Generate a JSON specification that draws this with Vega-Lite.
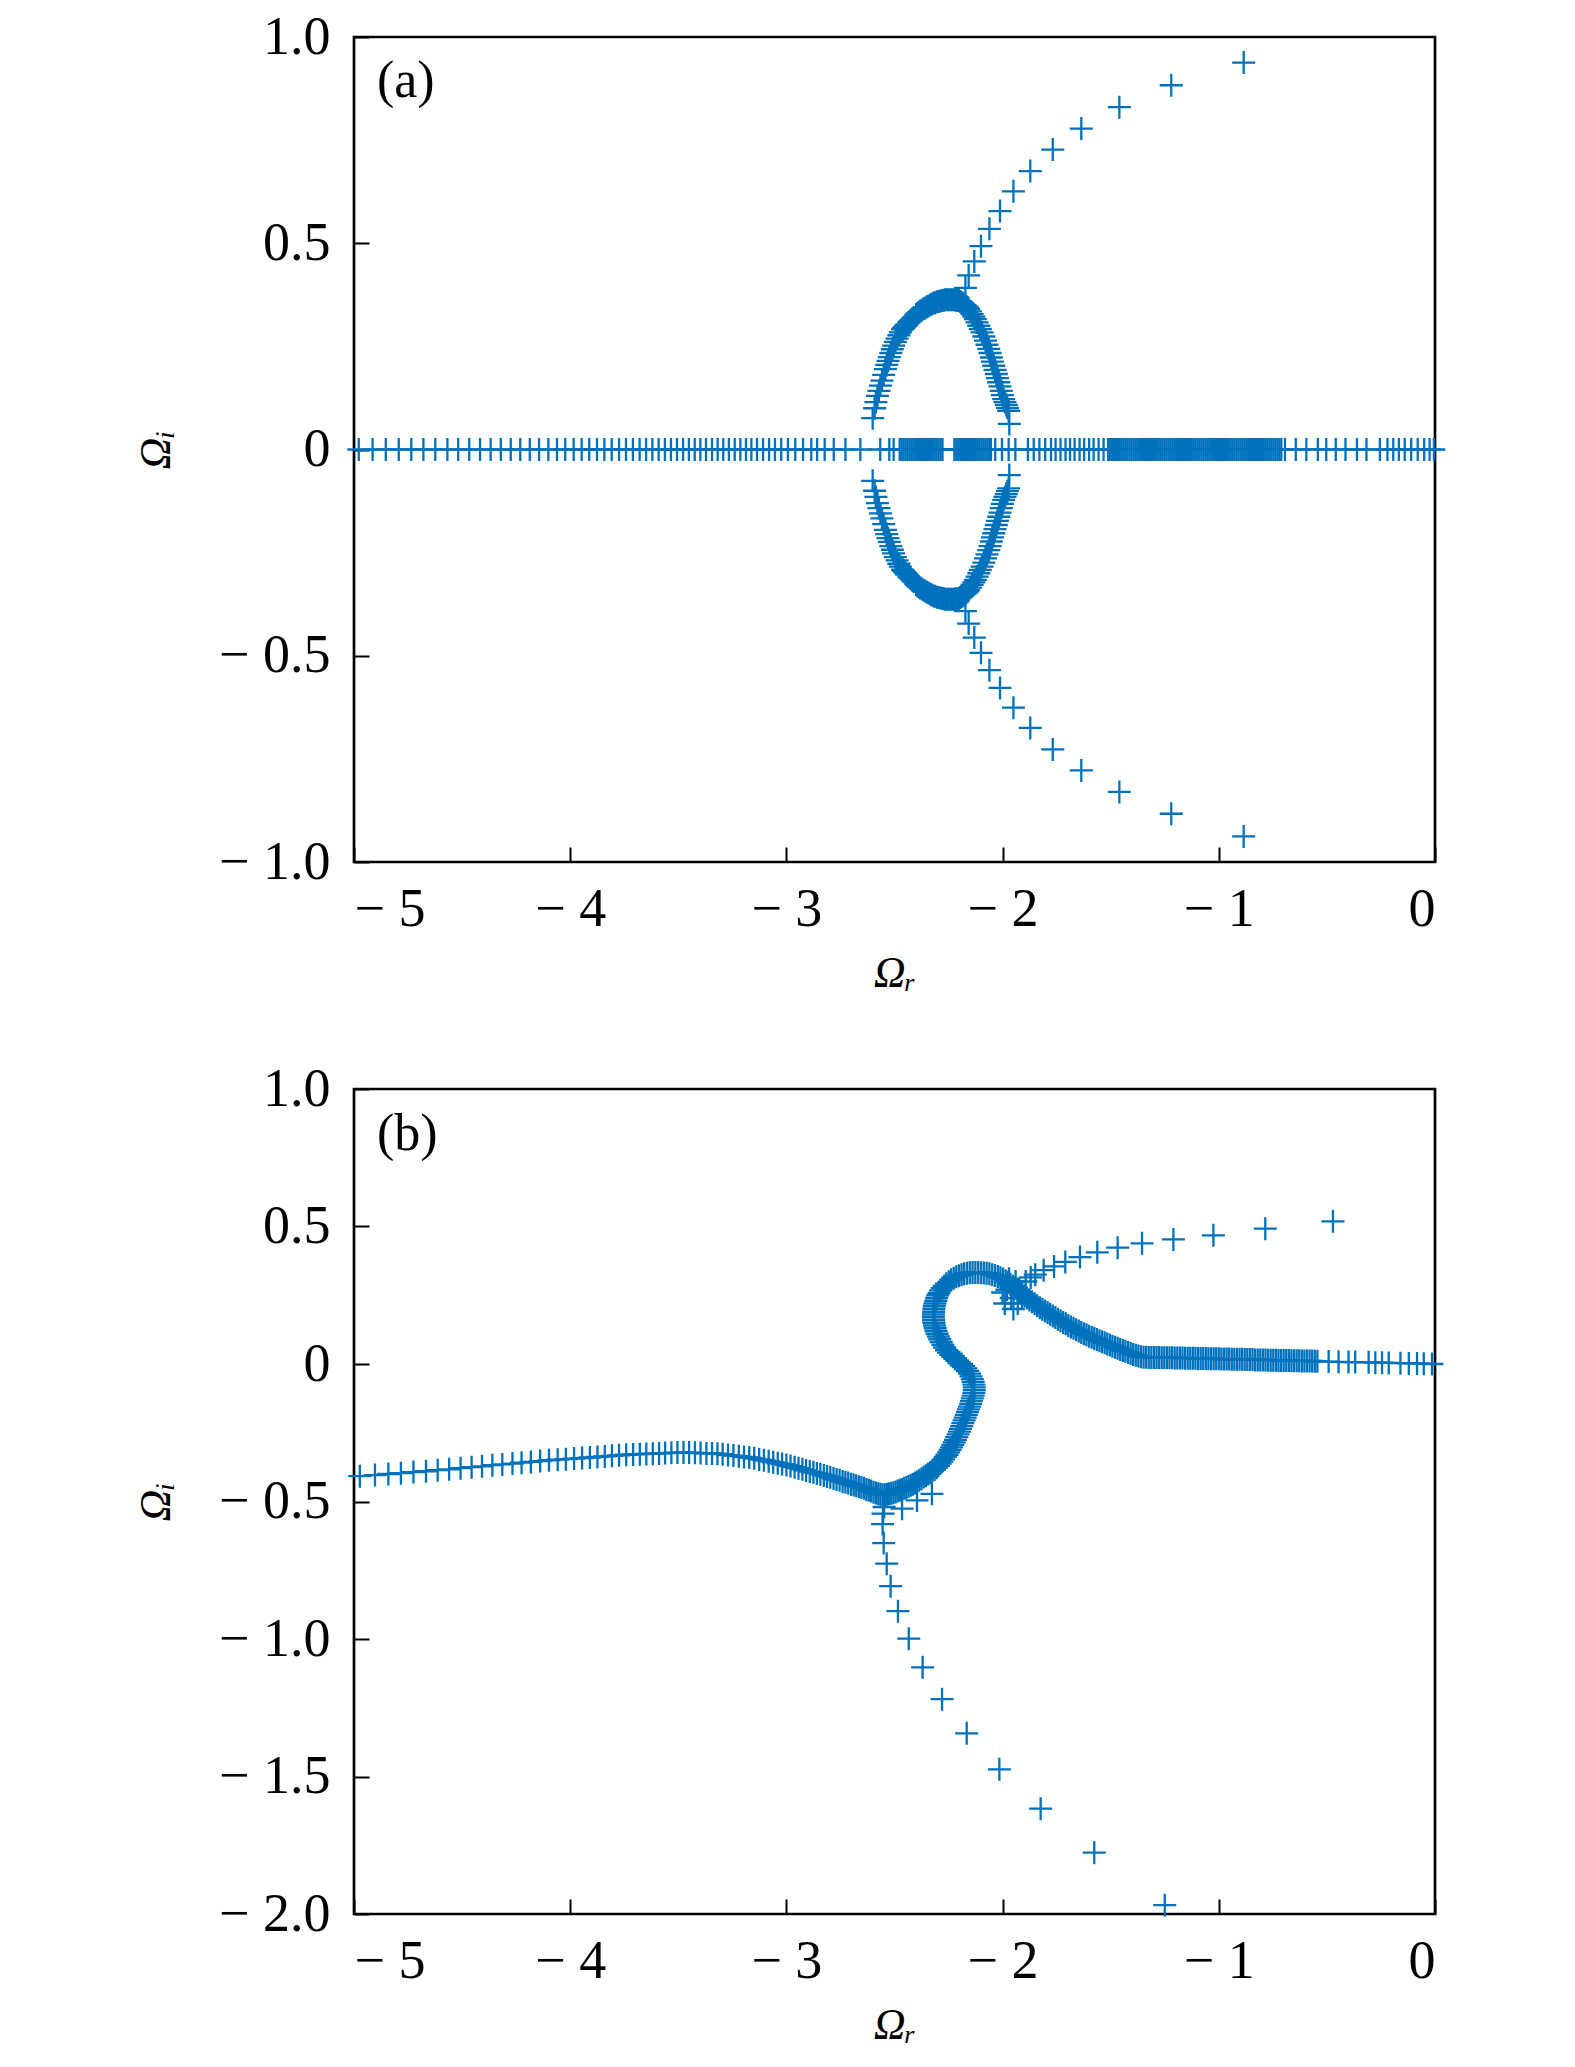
{
 "$schema": "https://vega.github.io/schema/vega-lite/v6.json",
 "padding": {"left": 133, "top": 8, "right": 20, "bottom": 10},
 "background": "white",
 "bounds": "flush",
 "spacing": 227,
 "config": {
  "view": {"stroke": "black", "strokeWidth": 2.7},
  "font": "Liberation Serif",
  "axis": {"grid": false, "domain": false, "tickColor": "black", "tickWidth": 2, "tickSize": -15, "labelPadding": 39, "labelFont": "Liberation Serif", "labelFontSize": 54, "labelColor": "black", "titleFont": "Liberation Serif", "titleFontSize": 44, "titleFontWeight": "normal", "titleFontStyle": "italic", "titleColor": "black"},
  "axisX": {"labelPadding": 35}
 },
 "datasets": {
  "a": [
   {"x":-0.885,"y":0.938},{"x":-1.22,"y":0.883},{"x":-1.46,"y":0.83},{"x":-1.636,"y":0.778},{"x":-1.768,"y":0.727},{"x":-1.872,"y":0.675},{"x":-1.95,"y":0.626},{"x":-2.012,"y":0.578},{"x":-2.061,"y":0.535},{"x":-2.1,"y":0.493},{"x":-2.131,"y":0.456},{"x":-2.157,"y":0.422},{"x":-2.172,"y":0.392},
   {"x":-0.885,"y":-0.938},{"x":-1.22,"y":-0.883},{"x":-1.46,"y":-0.83},{"x":-1.636,"y":-0.778},{"x":-1.768,"y":-0.727},{"x":-1.872,"y":-0.675},{"x":-1.95,"y":-0.626},{"x":-2.012,"y":-0.578},{"x":-2.061,"y":-0.535},{"x":-2.1,"y":-0.493},{"x":-2.131,"y":-0.456},{"x":-2.157,"y":-0.422},{"x":-2.172,"y":-0.392},
   {"x":-2.601,"y":0.076},{"x":-2.592,"y":0.1},{"x":-2.586,"y":0.115},{"x":-2.579,"y":0.13},{"x":-2.572,"y":0.142},{"x":-2.565,"y":0.155},{"x":-2.558,"y":0.167},{"x":-2.55,"y":0.181},{"x":-2.542,"y":0.195},{"x":-2.536,"y":0.205},{"x":-2.53,"y":0.215},{"x":-2.524,"y":0.224},{"x":-2.517,"y":0.234},{"x":-2.51,"y":0.243},{"x":-2.504,"y":0.252},{"x":-2.496,"y":0.261},{"x":-2.488,"y":0.269},{"x":-2.48,"y":0.277},{"x":-2.473,"y":0.284},{"x":-2.463,"y":0.291},{"x":-2.458,"y":0.294},{"x":-2.453,"y":0.297},{"x":-2.448,"y":0.3},{"x":-2.443,"y":0.303},{"x":-2.434,"y":0.308},{"x":-2.428,"y":0.311},{"x":-2.423,"y":0.314},{"x":-2.417,"y":0.317},{"x":-2.411,"y":0.32},{"x":-2.4,"y":0.327},{"x":-2.394,"y":0.33},{"x":-2.388,"y":0.333},{"x":-2.381,"y":0.336},{"x":-2.373,"y":0.338},{"x":-2.365,"y":0.341},{"x":-2.358,"y":0.343},{"x":-2.35,"y":0.346},{"x":-2.342,"y":0.348},{"x":-2.334,"y":0.351},{"x":-2.327,"y":0.353},{"x":-2.319,"y":0.355},{"x":-2.312,"y":0.356},{"x":-2.304,"y":0.358},{"x":-2.296,"y":0.359},{"x":-2.288,"y":0.36},{"x":-2.28,"y":0.361},{"x":-2.272,"y":0.362},{"x":-2.265,"y":0.363},{"x":-2.257,"y":0.363},{"x":-2.25,"y":0.363},{"x":-2.242,"y":0.363},{"x":-2.234,"y":0.363},{"x":-2.226,"y":0.363},{"x":-2.218,"y":0.362},{"x":-2.21,"y":0.362},{"x":-2.203,"y":0.361},{"x":-2.197,"y":0.359},{"x":-2.191,"y":0.357},{"x":-2.185,"y":0.355},{"x":-2.18,"y":0.352},{"x":-2.174,"y":0.35},{"x":-2.168,"y":0.347},{"x":-2.162,"y":0.344},{"x":-2.157,"y":0.341},{"x":-2.149,"y":0.335},{"x":-2.141,"y":0.328},{"x":-2.133,"y":0.322},{"x":-2.126,"y":0.316},{"x":-2.118,"y":0.308},{"x":-2.11,"y":0.3},{"x":-2.103,"y":0.292},{"x":-2.095,"y":0.284},{"x":-2.087,"y":0.274},{"x":-2.079,"y":0.264},{"x":-2.072,"y":0.254},{"x":-2.064,"y":0.244},{"x":-2.058,"y":0.234},{"x":-2.052,"y":0.223},{"x":-2.047,"y":0.213},{"x":-2.041,"y":0.203},{"x":-2.035,"y":0.193},{"x":-2.029,"y":0.183},{"x":-2.024,"y":0.173},{"x":-2.018,"y":0.163},{"x":-2.012,"y":0.153},{"x":-2.006,"y":0.142},{"x":-2.001,"y":0.132},{"x":-1.995,"y":0.122},{"x":-1.989,"y":0.115},{"x":-1.983,"y":0.108},{"x":-1.978,"y":0.101},{"x":-1.972,"y":0.094},{"x":-1.969,"y":0.062},
   {"x":-2.601,"y":-0.076},{"x":-2.592,"y":-0.1},{"x":-2.586,"y":-0.115},{"x":-2.579,"y":-0.13},{"x":-2.572,"y":-0.142},{"x":-2.565,"y":-0.155},{"x":-2.558,"y":-0.167},{"x":-2.55,"y":-0.181},{"x":-2.542,"y":-0.195},{"x":-2.536,"y":-0.205},{"x":-2.53,"y":-0.215},{"x":-2.524,"y":-0.224},{"x":-2.517,"y":-0.234},{"x":-2.51,"y":-0.243},{"x":-2.504,"y":-0.252},{"x":-2.496,"y":-0.261},{"x":-2.488,"y":-0.269},{"x":-2.48,"y":-0.277},{"x":-2.473,"y":-0.284},{"x":-2.463,"y":-0.291},{"x":-2.458,"y":-0.294},{"x":-2.453,"y":-0.297},{"x":-2.448,"y":-0.3},{"x":-2.443,"y":-0.303},{"x":-2.434,"y":-0.308},{"x":-2.428,"y":-0.311},{"x":-2.423,"y":-0.314},{"x":-2.417,"y":-0.317},{"x":-2.411,"y":-0.32},{"x":-2.4,"y":-0.327},{"x":-2.394,"y":-0.33},{"x":-2.388,"y":-0.333},{"x":-2.381,"y":-0.336},{"x":-2.373,"y":-0.338},{"x":-2.365,"y":-0.341},{"x":-2.358,"y":-0.343},{"x":-2.35,"y":-0.346},{"x":-2.342,"y":-0.348},{"x":-2.334,"y":-0.351},{"x":-2.327,"y":-0.353},{"x":-2.319,"y":-0.355},{"x":-2.312,"y":-0.356},{"x":-2.304,"y":-0.358},{"x":-2.296,"y":-0.359},{"x":-2.288,"y":-0.36},{"x":-2.28,"y":-0.361},{"x":-2.272,"y":-0.362},{"x":-2.265,"y":-0.363},{"x":-2.257,"y":-0.363},{"x":-2.25,"y":-0.363},{"x":-2.242,"y":-0.363},{"x":-2.234,"y":-0.363},{"x":-2.226,"y":-0.363},{"x":-2.218,"y":-0.362},{"x":-2.21,"y":-0.362},{"x":-2.203,"y":-0.361},{"x":-2.197,"y":-0.359},{"x":-2.191,"y":-0.357},{"x":-2.185,"y":-0.355},{"x":-2.18,"y":-0.352},{"x":-2.174,"y":-0.35},{"x":-2.168,"y":-0.347},{"x":-2.162,"y":-0.344},{"x":-2.157,"y":-0.341},{"x":-2.149,"y":-0.335},{"x":-2.141,"y":-0.328},{"x":-2.133,"y":-0.322},{"x":-2.126,"y":-0.316},{"x":-2.118,"y":-0.308},{"x":-2.11,"y":-0.3},{"x":-2.103,"y":-0.292},{"x":-2.095,"y":-0.284},{"x":-2.087,"y":-0.274},{"x":-2.079,"y":-0.264},{"x":-2.072,"y":-0.254},{"x":-2.064,"y":-0.244},{"x":-2.058,"y":-0.234},{"x":-2.052,"y":-0.223},{"x":-2.047,"y":-0.213},{"x":-2.041,"y":-0.203},{"x":-2.035,"y":-0.193},{"x":-2.029,"y":-0.183},{"x":-2.024,"y":-0.173},{"x":-2.018,"y":-0.163},{"x":-2.012,"y":-0.153},{"x":-2.006,"y":-0.142},{"x":-2.001,"y":-0.132},{"x":-1.995,"y":-0.122},{"x":-1.989,"y":-0.115},{"x":-1.983,"y":-0.108},{"x":-1.978,"y":-0.101},{"x":-1.972,"y":-0.094},{"x":-1.969,"y":-0.062},
   {"x":-4.978,"y":0},{"x":-4.914,"y":0},{"x":-4.853,"y":0},{"x":-4.793,"y":0},{"x":-4.735,"y":0},{"x":-4.679,"y":0},{"x":-4.624,"y":0},{"x":-4.568,"y":0},{"x":-4.518,"y":0},{"x":-4.467,"y":0},{"x":-4.417,"y":0},{"x":-4.368,"y":0},{"x":-4.321,"y":0},{"x":-4.275,"y":0},{"x":-4.231,"y":0},{"x":-4.187,"y":0},{"x":-4.144,"y":0},{"x":-4.101,"y":0},{"x":-4.061,"y":0},{"x":-4.023,"y":0},{"x":-3.984,"y":0},{"x":-3.947,"y":0},{"x":-3.912,"y":0},{"x":-3.876,"y":0},{"x":-3.842,"y":0},{"x":-3.808,"y":0},{"x":-3.774,"y":0},{"x":-3.742,"y":0},{"x":-3.71,"y":0},{"x":-3.679,"y":0},{"x":-3.649,"y":0},{"x":-3.62,"y":0},{"x":-3.591,"y":0},{"x":-3.562,"y":0},{"x":-3.534,"y":0},{"x":-3.506,"y":0},{"x":-3.478,"y":0},{"x":-3.451,"y":0},{"x":-3.424,"y":0},{"x":-3.398,"y":0},{"x":-3.372,"y":0},{"x":-3.344,"y":0},{"x":-3.318,"y":0},{"x":-3.292,"y":0},{"x":-3.266,"y":0},{"x":-3.239,"y":0},{"x":-3.213,"y":0},{"x":-3.187,"y":0},{"x":-3.162,"y":0},{"x":-3.136,"y":0},{"x":-3.108,"y":0},{"x":-3.08,"y":0},{"x":-3.053,"y":0},{"x":-3.024,"y":0},{"x":-2.993,"y":0},{"x":-2.959,"y":0},{"x":-2.923,"y":0},{"x":-2.885,"y":0},{"x":-2.858,"y":0},{"x":-2.823,"y":0},{"x":-2.781,"y":0},{"x":-2.727,"y":0},{"x":-2.658,"y":0},{"x":-2.566,"y":0},{"x":-2.524,"y":0},{"x":-2.504,"y":0},
   {"x":-2.476,"y":0},{"x":-2.467,"y":0},{"x":-2.458,"y":0},{"x":-2.449,"y":0},{"x":-2.44,"y":0},{"x":-2.431,"y":0},{"x":-2.422,"y":0},{"x":-2.413,"y":0},{"x":-2.404,"y":0},{"x":-2.395,"y":0},{"x":-2.386,"y":0},{"x":-2.377,"y":0},{"x":-2.368,"y":0},{"x":-2.359,"y":0},{"x":-2.35,"y":0},{"x":-2.341,"y":0},{"x":-2.332,"y":0},{"x":-2.323,"y":0},{"x":-2.314,"y":0},{"x":-2.305,"y":0},{"x":-2.296,"y":0},{"x":-2.287,"y":0},{"x":-2.278,"y":0},
   {"x":-2.223,"y":0},{"x":-2.214,"y":0},{"x":-2.205,"y":0},{"x":-2.196,"y":0},{"x":-2.187,"y":0},{"x":-2.178,"y":0},{"x":-2.169,"y":0},{"x":-2.16,"y":0},{"x":-2.151,"y":0},{"x":-2.142,"y":0},{"x":-2.133,"y":0},{"x":-2.124,"y":0},{"x":-2.115,"y":0},{"x":-2.106,"y":0},{"x":-2.097,"y":0},{"x":-2.088,"y":0},{"x":-2.079,"y":0},{"x":-2.07,"y":0},{"x":-2.061,"y":0},{"x":-2.054,"y":0},
   {"x":-2.034,"y":0},{"x":-2.003,"y":0},{"x":-1.972,"y":0},{"x":-1.941,"y":0},{"x":-1.883,"y":0},{"x":-1.856,"y":0},{"x":-1.83,"y":0},{"x":-1.803,"y":0},{"x":-1.776,"y":0},{"x":-1.755,"y":0},{"x":-1.732,"y":0},{"x":-1.709,"y":0},{"x":-1.688,"y":0},{"x":-1.667,"y":0},{"x":-1.644,"y":0},{"x":-1.623,"y":0},{"x":-1.6,"y":0},{"x":-1.579,"y":0},{"x":-1.556,"y":0},{"x":-1.533,"y":0},
   {"x":-1.512,"y":0},{"x":-1.503,"y":0},{"x":-1.494,"y":0},{"x":-1.485,"y":0},{"x":-1.476,"y":0},{"x":-1.467,"y":0},{"x":-1.458,"y":0},{"x":-1.449,"y":0},{"x":-1.44,"y":0},{"x":-1.431,"y":0},{"x":-1.422,"y":0},{"x":-1.413,"y":0},{"x":-1.404,"y":0},{"x":-1.395,"y":0},{"x":-1.386,"y":0},{"x":-1.377,"y":0},{"x":-1.368,"y":0},{"x":-1.359,"y":0},{"x":-1.35,"y":0},{"x":-1.341,"y":0},{"x":-1.332,"y":0},{"x":-1.323,"y":0},{"x":-1.314,"y":0},{"x":-1.305,"y":0},{"x":-1.296,"y":0},{"x":-1.287,"y":0},{"x":-1.278,"y":0},{"x":-1.269,"y":0},{"x":-1.26,"y":0},{"x":-1.251,"y":0},{"x":-1.242,"y":0},{"x":-1.233,"y":0},{"x":-1.224,"y":0},{"x":-1.215,"y":0},{"x":-1.206,"y":0},{"x":-1.197,"y":0},{"x":-1.188,"y":0},{"x":-1.179,"y":0},{"x":-1.17,"y":0},{"x":-1.161,"y":0},{"x":-1.152,"y":0},{"x":-1.143,"y":0},{"x":-1.134,"y":0},{"x":-1.125,"y":0},{"x":-1.116,"y":0},{"x":-1.107,"y":0},{"x":-1.098,"y":0},{"x":-1.089,"y":0},{"x":-1.08,"y":0},{"x":-1.071,"y":0},{"x":-1.062,"y":0},{"x":-1.053,"y":0},{"x":-1.044,"y":0},{"x":-1.035,"y":0},{"x":-1.026,"y":0},{"x":-1.017,"y":0},{"x":-1.008,"y":0},{"x":-0.999,"y":0},{"x":-0.99,"y":0},{"x":-0.981,"y":0},{"x":-0.972,"y":0},{"x":-0.963,"y":0},{"x":-0.954,"y":0},{"x":-0.945,"y":0},{"x":-0.936,"y":0},{"x":-0.927,"y":0},{"x":-0.918,"y":0},{"x":-0.909,"y":0},{"x":-0.9,"y":0},{"x":-0.891,"y":0},{"x":-0.882,"y":0},{"x":-0.873,"y":0},{"x":-0.864,"y":0},{"x":-0.855,"y":0},{"x":-0.846,"y":0},{"x":-0.837,"y":0},{"x":-0.828,"y":0},{"x":-0.819,"y":0},{"x":-0.81,"y":0},{"x":-0.801,"y":0},{"x":-0.792,"y":0},{"x":-0.783,"y":0},{"x":-0.774,"y":0},{"x":-0.765,"y":0},{"x":-0.756,"y":0},{"x":-0.747,"y":0},{"x":-0.738,"y":0},{"x":-0.729,"y":0},{"x":-0.72,"y":0},{"x":-0.711,"y":0},
   {"x":-0.694,"y":0},{"x":-0.644,"y":0},{"x":-0.595,"y":0},{"x":-0.542,"y":0},{"x":-0.503,"y":0},{"x":-0.459,"y":0},{"x":-0.414,"y":0},{"x":-0.361,"y":0},{"x":-0.317,"y":0},{"x":-0.255,"y":0},{"x":-0.22,"y":0},{"x":-0.193,"y":0},{"x":-0.167,"y":0},{"x":-0.14,"y":0},{"x":-0.11,"y":0},{"x":-0.08,"y":0},{"x":-0.05,"y":0},{"x":-0.025,"y":0},{"x":-0.005,"y":0}
  ],
  "b": [
   {"x":-4.973,"y":-0.408},{"x":-4.903,"y":-0.404},{"x":-4.841,"y":-0.4},{"x":-4.783,"y":-0.397},{"x":-4.725,"y":-0.393},{"x":-4.667,"y":-0.39},{"x":-4.613,"y":-0.386},{"x":-4.56,"y":-0.383},{"x":-4.507,"y":-0.379},{"x":-4.456,"y":-0.375},{"x":-4.408,"y":-0.372},{"x":-4.36,"y":-0.368},{"x":-4.314,"y":-0.365},{"x":-4.267,"y":-0.362},{"x":-4.225,"y":-0.359},{"x":-4.182,"y":-0.356},{"x":-4.139,"y":-0.353},{"x":-4.098,"y":-0.35},{"x":-4.058,"y":-0.348},{"x":-4.02,"y":-0.346},{"x":-3.982,"y":-0.344},{"x":-3.945,"y":-0.342},{"x":-3.909,"y":-0.34},{"x":-3.874,"y":-0.338},{"x":-3.84,"y":-0.336},{"x":-3.807,"y":-0.334},{"x":-3.774,"y":-0.332},{"x":-3.741,"y":-0.33},{"x":-3.709,"y":-0.329},{"x":-3.678,"y":-0.328},{"x":-3.648,"y":-0.327},{"x":-3.618,"y":-0.326},{"x":-3.589,"y":-0.325},{"x":-3.561,"y":-0.324},{"x":-3.532,"y":-0.323},{"x":-3.504,"y":-0.322},{"x":-3.476,"y":-0.322},{"x":-3.45,"y":-0.322},{"x":-3.423,"y":-0.323},{"x":-3.397,"y":-0.324},{"x":-3.37,"y":-0.325},{"x":-3.344,"y":-0.325},{"x":-3.319,"y":-0.326},{"x":-3.295,"y":-0.328},{"x":-3.27,"y":-0.331},{"x":-3.245,"y":-0.333},{"x":-3.22,"y":-0.335},{"x":-3.196,"y":-0.338},{"x":-3.172,"y":-0.34},{"x":-3.149,"y":-0.343},{"x":-3.126,"y":-0.347},{"x":-3.104,"y":-0.35},{"x":-3.082,"y":-0.354},{"x":-3.061,"y":-0.357},{"x":-3.04,"y":-0.361},{"x":-3.02,"y":-0.364},{"x":-3.0,"y":-0.367},{"x":-2.981,"y":-0.371},{"x":-2.962,"y":-0.375},{"x":-2.944,"y":-0.379},{"x":-2.926,"y":-0.383},{"x":-2.909,"y":-0.387},{"x":-2.892,"y":-0.391},{"x":-2.875,"y":-0.394},{"x":-2.859,"y":-0.398},{"x":-2.843,"y":-0.401},{"x":-2.827,"y":-0.405},{"x":-2.812,"y":-0.409},{"x":-2.797,"y":-0.412},{"x":-2.782,"y":-0.416},{"x":-2.768,"y":-0.42},{"x":-2.754,"y":-0.423},{"x":-2.74,"y":-0.427},{"x":-2.727,"y":-0.43},{"x":-2.714,"y":-0.433},{"x":-2.701,"y":-0.437},{"x":-2.689,"y":-0.44},{"x":-2.677,"y":-0.443},{"x":-2.665,"y":-0.446},{"x":-2.653,"y":-0.449},{"x":-2.641,"y":-0.452},{"x":-2.63,"y":-0.456},{"x":-2.619,"y":-0.459},{"x":-2.608,"y":-0.462},{"x":-2.597,"y":-0.466},{"x":-2.586,"y":-0.469},{"x":-2.575,"y":-0.472},
   {"x":-2.565,"y":-0.474},{"x":-2.555,"y":-0.475},{"x":-2.545,"y":-0.475},{"x":-2.535,"y":-0.474},{"x":-2.525,"y":-0.472},{"x":-2.515,"y":-0.47},{"x":-2.505,"y":-0.468},{"x":-2.495,"y":-0.465},{"x":-2.485,"y":-0.462},{"x":-2.475,"y":-0.459},{"x":-2.465,"y":-0.456},{"x":-2.455,"y":-0.452},{"x":-2.445,"y":-0.449},{"x":-2.435,"y":-0.445},{"x":-2.425,"y":-0.441},{"x":-2.415,"y":-0.437},{"x":-2.405,"y":-0.433},{"x":-2.395,"y":-0.428},{"x":-2.385,"y":-0.423},{"x":-2.375,"y":-0.417},{"x":-2.365,"y":-0.411},{"x":-2.355,"y":-0.406},{"x":-2.345,"y":-0.4},{"x":-2.335,"y":-0.395},{"x":-2.325,"y":-0.389},{"x":-2.315,"y":-0.384},{"x":-2.305,"y":-0.377},{"x":-2.297,"y":-0.37},{"x":-2.289,"y":-0.362},{"x":-2.281,"y":-0.355},{"x":-2.273,"y":-0.347},{"x":-2.265,"y":-0.338},{"x":-2.257,"y":-0.33},{"x":-2.25,"y":-0.321},{"x":-2.243,"y":-0.312},{"x":-2.236,"y":-0.303},{"x":-2.23,"y":-0.294},{"x":-2.224,"y":-0.285},{"x":-2.218,"y":-0.276},{"x":-2.212,"y":-0.266},{"x":-2.206,"y":-0.256},{"x":-2.2,"y":-0.246},{"x":-2.195,"y":-0.236},{"x":-2.189,"y":-0.226},{"x":-2.184,"y":-0.215},{"x":-2.178,"y":-0.205},{"x":-2.173,"y":-0.195},{"x":-2.168,"y":-0.185},{"x":-2.163,"y":-0.175},{"x":-2.158,"y":-0.165},{"x":-2.153,"y":-0.155},{"x":-2.148,"y":-0.145},{"x":-2.144,"y":-0.135},{"x":-2.14,"y":-0.125},{"x":-2.136,"y":-0.115},{"x":-2.133,"y":-0.105},{"x":-2.131,"y":-0.095},{"x":-2.131,"y":-0.085},{"x":-2.133,"y":-0.075},{"x":-2.136,"y":-0.065},{"x":-2.14,"y":-0.055},{"x":-2.146,"y":-0.045},{"x":-2.153,"y":-0.035},{"x":-2.161,"y":-0.025},{"x":-2.17,"y":-0.016},{"x":-2.18,"y":-0.008},{"x":-2.19,"y":0.0},{"x":-2.2,"y":0.006},{"x":-2.21,"y":0.012},{"x":-2.22,"y":0.019},{"x":-2.23,"y":0.026},{"x":-2.24,"y":0.033},{"x":-2.25,"y":0.041},{"x":-2.259,"y":0.05},{"x":-2.268,"y":0.06},{"x":-2.276,"y":0.07},{"x":-2.284,"y":0.08},{"x":-2.291,"y":0.09},{"x":-2.297,"y":0.1},{"x":-2.303,"y":0.11},{"x":-2.308,"y":0.12},{"x":-2.312,"y":0.13},{"x":-2.315,"y":0.14},{"x":-2.318,"y":0.15},{"x":-2.319,"y":0.16},{"x":-2.32,"y":0.17},{"x":-2.32,"y":0.18},{"x":-2.319,"y":0.19},{"x":-2.318,"y":0.2},{"x":-2.316,"y":0.21},{"x":-2.313,"y":0.22},{"x":-2.309,"y":0.23},{"x":-2.305,"y":0.24},{"x":-2.3,"y":0.25},{"x":-2.294,"y":0.259},{"x":-2.287,"y":0.268},{"x":-2.279,"y":0.276},{"x":-2.27,"y":0.284},{"x":-2.26,"y":0.292},{"x":-2.249,"y":0.299},{"x":-2.238,"y":0.306},{"x":-2.226,"y":0.312},{"x":-2.214,"y":0.317},{"x":-2.202,"y":0.321},{"x":-2.19,"y":0.325},{"x":-2.178,"y":0.328},{"x":-2.165,"y":0.33},{"x":-2.152,"y":0.332},{"x":-2.139,"y":0.333},{"x":-2.126,"y":0.333},{"x":-2.113,"y":0.333},{"x":-2.1,"y":0.332},{"x":-2.087,"y":0.331},{"x":-2.074,"y":0.33},{"x":-2.061,"y":0.328},{"x":-2.048,"y":0.325},{"x":-2.035,"y":0.322},{"x":-2.022,"y":0.318},{"x":-2.01,"y":0.314},{"x":-1.998,"y":0.309},{"x":-1.986,"y":0.303},{"x":-1.975,"y":0.297},{"x":-1.964,"y":0.29},{"x":-1.953,"y":0.283},{"x":-1.942,"y":0.276},{"x":-1.931,"y":0.268},{"x":-1.92,"y":0.261},{"x":-1.909,"y":0.254},{"x":-1.898,"y":0.247},{"x":-1.887,"y":0.24},{"x":-1.876,"y":0.233},{"x":-1.864,"y":0.226},{"x":-1.852,"y":0.219},{"x":-1.84,"y":0.212},{"x":-1.828,"y":0.205},{"x":-1.816,"y":0.199},{"x":-1.804,"y":0.193},{"x":-1.792,"y":0.187},{"x":-1.78,"y":0.181},{"x":-1.768,"y":0.175},{"x":-1.756,"y":0.169},{"x":-1.744,"y":0.163},{"x":-1.732,"y":0.157},{"x":-1.72,"y":0.151},{"x":-1.708,"y":0.146},{"x":-1.696,"y":0.14},{"x":-1.684,"y":0.135},{"x":-1.672,"y":0.13},{"x":-1.66,"y":0.125},{"x":-1.648,"y":0.12},{"x":-1.636,"y":0.115},{"x":-1.624,"y":0.11},{"x":-1.612,"y":0.106},{"x":-1.6,"y":0.101},{"x":-1.588,"y":0.097},{"x":-1.576,"y":0.093},{"x":-1.564,"y":0.089},{"x":-1.552,"y":0.085},{"x":-1.54,"y":0.081},{"x":-1.528,"y":0.077},{"x":-1.516,"y":0.073},{"x":-1.504,"y":0.069},{"x":-1.492,"y":0.065},{"x":-1.48,"y":0.061},{"x":-1.468,"y":0.057},{"x":-1.456,"y":0.053},{"x":-1.444,"y":0.049},{"x":-1.432,"y":0.046},{"x":-1.42,"y":0.042},{"x":-1.408,"y":0.039},{"x":-1.396,"y":0.035},{"x":-1.384,"y":0.032},{"x":-1.372,"y":0.029},{"x":-1.36,"y":0.026},{"x":-1.348,"y":0.025},
   {"x":-1.336,"y":0.025},{"x":-1.324,"y":0.024},{"x":-1.312,"y":0.024},{"x":-1.3,"y":0.024},{"x":-1.288,"y":0.024},{"x":-1.276,"y":0.024},{"x":-1.264,"y":0.023},{"x":-1.252,"y":0.023},{"x":-1.24,"y":0.023},{"x":-1.228,"y":0.023},{"x":-1.216,"y":0.023},{"x":-1.204,"y":0.022},{"x":-1.192,"y":0.022},{"x":-1.18,"y":0.022},{"x":-1.168,"y":0.022},{"x":-1.156,"y":0.021},{"x":-1.144,"y":0.021},{"x":-1.132,"y":0.021},{"x":-1.12,"y":0.021},{"x":-1.108,"y":0.021},{"x":-1.096,"y":0.02},{"x":-1.084,"y":0.02},{"x":-1.072,"y":0.02},{"x":-1.06,"y":0.02},{"x":-1.048,"y":0.019},{"x":-1.036,"y":0.019},{"x":-1.024,"y":0.019},{"x":-1.012,"y":0.019},{"x":-1.0,"y":0.019},{"x":-0.988,"y":0.018},{"x":-0.976,"y":0.018},{"x":-0.964,"y":0.018},{"x":-0.952,"y":0.018},{"x":-0.94,"y":0.017},{"x":-0.928,"y":0.017},{"x":-0.916,"y":0.017},{"x":-0.904,"y":0.017},{"x":-0.892,"y":0.017},{"x":-0.88,"y":0.016},{"x":-0.868,"y":0.016},{"x":-0.856,"y":0.016},{"x":-0.844,"y":0.016},{"x":-0.832,"y":0.015},{"x":-0.82,"y":0.015},{"x":-0.808,"y":0.015},{"x":-0.796,"y":0.015},{"x":-0.784,"y":0.015},{"x":-0.772,"y":0.014},{"x":-0.76,"y":0.014},{"x":-0.748,"y":0.014},{"x":-0.736,"y":0.014},{"x":-0.724,"y":0.013},{"x":-0.712,"y":0.013},{"x":-0.7,"y":0.013},{"x":-0.688,"y":0.013},{"x":-0.676,"y":0.013},{"x":-0.664,"y":0.012},{"x":-0.652,"y":0.012},{"x":-0.64,"y":0.012},{"x":-0.628,"y":0.012},{"x":-0.616,"y":0.011},{"x":-0.604,"y":0.011},{"x":-0.592,"y":0.011},{"x":-0.58,"y":0.011},{"x":-0.568,"y":0.011},{"x":-0.556,"y":0.01},{"x":-0.544,"y":0.01},
   {"x":-0.492,"y":0.009},{"x":-0.446,"y":0.008},{"x":-0.4,"y":0.007},{"x":-0.369,"y":0.007},{"x":-0.307,"y":0.006},{"x":-0.276,"y":0.005},{"x":-0.245,"y":0.005},{"x":-0.214,"y":0.004},{"x":-0.16,"y":0.003},{"x":-0.121,"y":0.002},{"x":-0.083,"y":0.002},{"x":-0.052,"y":0.001},{"x":-0.014,"y":0.0},
   {"x":-0.472,"y":0.519},{"x":-0.785,"y":0.492},{"x":-1.025,"y":0.468},{"x":-1.21,"y":0.453},{"x":-1.355,"y":0.439},{"x":-1.468,"y":0.423},{"x":-1.562,"y":0.406},{"x":-1.642,"y":0.389},{"x":-1.71,"y":0.371},{"x":-1.762,"y":0.355},{"x":-1.81,"y":0.341},{"x":-1.849,"y":0.325},{"x":-1.87,"y":0.315},{"x":-1.893,"y":0.3},
   {"x":-1.98,"y":0.27},{"x":-1.96,"y":0.24},{"x":-1.93,"y":0.22},{"x":-1.99,"y":0.22},{"x":-1.95,"y":0.2},{"x":-1.91,"y":0.24},{"x":-1.97,"y":0.31},{"x":-1.94,"y":0.3},{"x":-2.0,"y":0.26},
   {"x":-1.25,"y":-1.968},{"x":-1.576,"y":-1.777},{"x":-1.824,"y":-1.617},{"x":-2.015,"y":-1.474},{"x":-2.166,"y":-1.343},{"x":-2.28,"y":-1.219},{"x":-2.37,"y":-1.103},{"x":-2.434,"y":-0.999},{"x":-2.484,"y":-0.899},{"x":-2.518,"y":-0.808},{"x":-2.536,"y":-0.726},{"x":-2.55,"y":-0.651},{"x":-2.555,"y":-0.582},{"x":-2.553,"y":-0.544},{"x":-2.548,"y":-0.52},{"x":-2.465,"y":-0.526},{"x":-2.396,"y":-0.496},{"x":-2.327,"y":-0.472}
  ]
 },
 "vconcat": [
  {
   "width": 1081, "height": 825,
   "layer": [
    {
     "data": {"name": "a"},
     "mark": {"type": "point", "shape": "M-1,0L1,0M0,-1L0,1", "filled": false, "stroke": "#0072BD", "strokeWidth": 2.3, "size": 529, "opacity": 1},
     "encoding": {
      "x": {"field": "x", "type": "quantitative", "scale": {"domain": [-5, 0], "nice": false, "zero": false}, "axis": {"values": [-5, -4, -3, -2, -1, 0], "labelExpr": "datum.value == 0 ? '0' : '− ' + abs(datum.value)", "title": "Ωᵣ", "titlePadding": 15}},
      "y": {"field": "y", "type": "quantitative", "scale": {"domain": [-1, 1], "nice": false, "zero": false}, "axis": {"values": [-1, -0.5, 0, 0.5, 1], "labelExpr": "datum.value == 0 ? '0' : (datum.value < 0 ? '− ' : '') + format(abs(datum.value), '.1f')", "title": "Ωᵢ", "titlePadding": 40}}
     }
    },
    {
     "data": {"values": [{"x": -4.894, "y": 0.855, "t": "(a)"}]},
     "mark": {"type": "text", "align": "left", "baseline": "alphabetic", "fontSize": 52, "font": "Liberation Serif", "color": "black"},
     "encoding": {"x": {"field": "x", "type": "quantitative"}, "y": {"field": "y", "type": "quantitative"}, "text": {"field": "t"}}
    }
   ]
  },
  {
   "width": 1081, "height": 825,
   "layer": [
    {
     "data": {"name": "b"},
     "mark": {"type": "point", "shape": "M-1,0L1,0M0,-1L0,1", "filled": false, "stroke": "#0072BD", "strokeWidth": 2.3, "size": 529, "opacity": 1},
     "encoding": {
      "x": {"field": "x", "type": "quantitative", "scale": {"domain": [-5, 0], "nice": false, "zero": false}, "axis": {"values": [-5, -4, -3, -2, -1, 0], "labelExpr": "datum.value == 0 ? '0' : '− ' + abs(datum.value)", "title": "Ωᵣ", "titlePadding": 15}},
      "y": {"field": "y", "type": "quantitative", "scale": {"domain": [-2, 1], "nice": false, "zero": false}, "axis": {"values": [-2, -1.5, -1, -0.5, 0, 0.5, 1], "labelExpr": "datum.value == 0 ? '0' : (datum.value < 0 ? '− ' : '') + format(abs(datum.value), '.1f')", "title": "Ωᵢ", "titlePadding": 40}}
     }
    },
    {
     "data": {"values": [{"x": -4.894, "y": 0.778, "t": "(b)"}]},
     "mark": {"type": "text", "align": "left", "baseline": "alphabetic", "fontSize": 52, "font": "Liberation Serif", "color": "black"},
     "encoding": {"x": {"field": "x", "type": "quantitative"}, "y": {"field": "y", "type": "quantitative"}, "text": {"field": "t"}}
    }
   ]
  }
 ],
 "resolve": {"scale": {"x": "independent", "y": "independent"}}
}
